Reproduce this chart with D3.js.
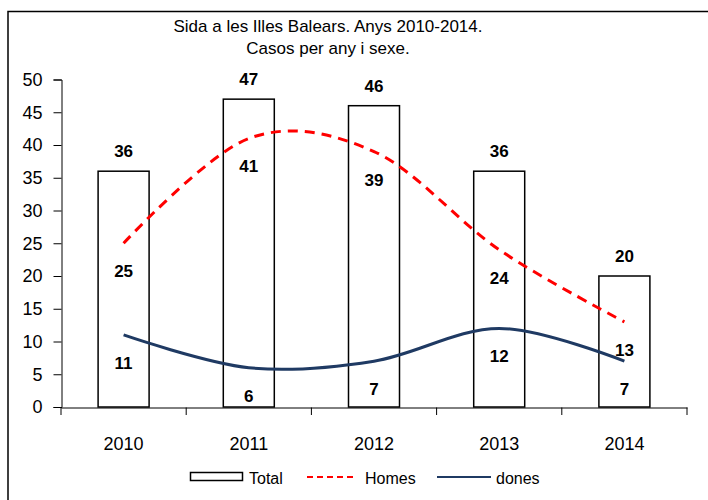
<!DOCTYPE html>
<html>
<head>
<meta charset="utf-8">
<script src="https://cdn.jsdelivr.net/npm/d3@7"></script>
<style>
  body { margin: 0; background: #fff; }
  svg { font-family: "Liberation Sans", Arial, sans-serif; }
</style>
</head>
<body>
<svg width="708" height="500"></svg>
<script>
// dades
var anys = ["2010", "2011", "2012", "2013", "2014"];
var total = [36, 47, 46, 36, 20];
var homes = [25, 41, 39, 24, 13];
var dones = [11, 6, 7, 12, 7];
var titol = ["Sida a les Illes Balears. Anys 2010-2014.", "Casos per any i sexe."];

var svg = d3.select("svg");

// marc
svg.append("rect")
  .attr("x", 8).attr("y", 11.5)
  .attr("width", 720).attr("height", 520)
  .style("fill", "none")
  .style("stroke", "#000")
  .style("stroke-width", "1.5px");

// titol
svg.selectAll(".titol").data(titol).enter()
  .append("text")
  .attr("class", "titol")
  .attr("x", 328)
  .attr("y", function(d, i) { return 32 + i * 22; })
  .attr("text-anchor", "middle")
  .style("font-size", "17px")
  .text(function(d) { return d; });

var x = d3.scaleBand().domain(anys).range([61, 687]);
var y = d3.scaleLinear().domain([0, 50]).range([407, 79.5]);
var bw = x.bandwidth();
var cx = function(d, i) { return x(anys[i]) + bw / 2; };

// eixos
var yAxis = svg.append("g")
  .attr("transform", "translate(61.5,0)")
  .call(d3.axisLeft(y).ticks(10).tickSize(8).tickPadding(11));
yAxis.selectAll("text").style("font-size", "18px").style("fill", "#000").style("font-family", "inherit");
yAxis.selectAll("line, path").style("stroke", "#000");

var xAxis = svg.append("g")
  .attr("transform", "translate(0,407.5)")
  .call(d3.axisBottom(x).tickSize(0).tickPadding(30));
xAxis.selectAll("text").style("font-size", "18px").style("fill", "#000").style("font-family", "inherit");
xAxis.select("path").style("stroke", "#000");

svg.append("g").selectAll("line")
  .data(d3.range(anys.length + 1)).enter()
  .append("line")
  .attr("x1", function(i) { return x.range()[0] + i * x.step(); })
  .attr("x2", function(i) { return x.range()[0] + i * x.step(); })
  .attr("y1", 407.5).attr("y2", 415)
  .style("stroke", "#000");

// barres
var barW = 51;
svg.append("g").selectAll("rect")
  .data(total).enter()
  .append("rect")
  .attr("x", function(d, i) { return cx(d, i) - barW / 2; })
  .attr("y", function(d) { return y(d); })
  .attr("width", barW)
  .attr("height", function(d) { return y(0) - y(d); })
  .style("fill", "#fff")
  .style("stroke", "#000")
  .style("stroke-width", "1.5px");

// linies
var linia = d3.line()
  .x(function(d, i) { return cx(d, i); })
  .y(function(d) { return y(d); })
  .curve(d3.curveCardinal.tension(0));

svg.append("path")
  .datum(homes)
  .attr("d", linia)
  .style("fill", "none")
  .style("stroke", "#ff0000")
  .style("stroke-width", "3px")
  .style("stroke-dasharray", "10,7");

svg.append("path")
  .datum(dones)
  .attr("d", linia)
  .style("fill", "none")
  .style("stroke", "#1f3a63")
  .style("stroke-width", "3px");

// etiquetes
function etiquetes(dades, dy) {
  svg.append("g").selectAll("text")
    .data(dades).enter()
    .append("text")
    .attr("x", cx)
    .attr("y", function(d) { return y(d) + dy; })
    .attr("text-anchor", "middle")
    .style("font-size", "17px")
    .style("font-weight", "bold")
    .text(function(d) { return d; });
}
etiquetes(total, -14);
etiquetes(homes, 34);
etiquetes(dones, 34);

// llegenda
var lleg = svg.append("g").style("font-size", "16px");
lleg.append("rect")
  .attr("x", 190.5).attr("y", 472.5).attr("width", 52).attr("height", 8)
  .style("fill", "#fff").style("stroke", "#000").style("stroke-width", "1.5px");
lleg.append("text").attr("x", 249).attr("y", 484).text("Total");
lleg.append("line")
  .attr("x1", 307).attr("x2", 355).attr("y1", 477).attr("y2", 477)
  .style("stroke", "#ff0000").style("stroke-width", "2px").style("stroke-dasharray", "6,4");
lleg.append("text").attr("x", 365).attr("y", 484).text("Homes");
lleg.append("line")
  .attr("x1", 437).attr("x2", 491).attr("y1", 477).attr("y2", 477)
  .style("stroke", "#1f3a63").style("stroke-width", "2px");
lleg.append("text").attr("x", 496).attr("y", 484).text("dones");
</script>
</body>
</html>
